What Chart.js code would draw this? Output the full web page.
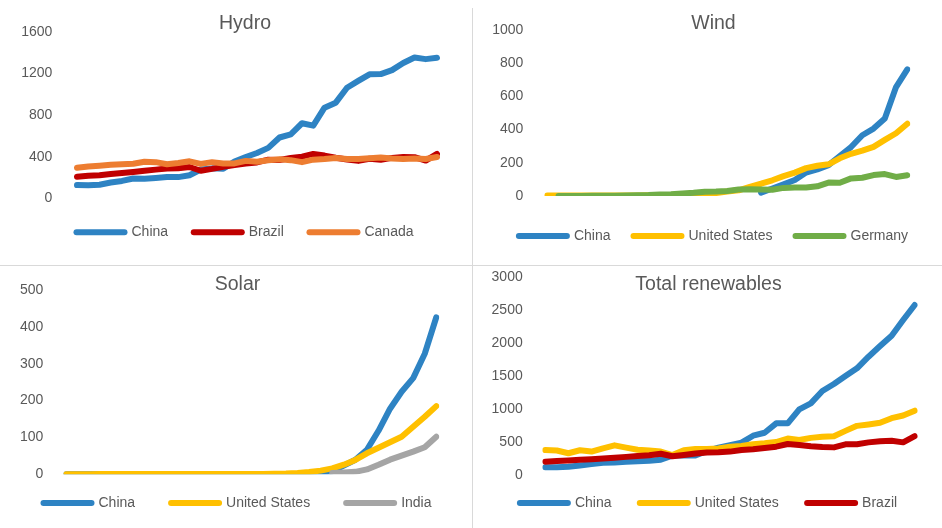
<!DOCTYPE html>
<html lang="en">
<head>
<meta charset="UTF-8">
<title>Renewables by source</title>
<script src="https://cdn.jsdelivr.net/npm/chart.js"></script>
<style>
    body { margin: 0; width: 942px; height: 528px; position: relative; overflow: hidden; background: #fff; }
    canvas { position: absolute; }
    .sep { position: absolute; background: #d9d9d9; }
</style>
</head>
<body>
<canvas id="hydro" width="471" height="264" style="left:0;top:0"></canvas>
<canvas id="wind" width="469" height="264" style="left:473px;top:0"></canvas>
<canvas id="solar" width="471" height="263" style="left:0;top:265px"></canvas>
<canvas id="total" width="469" height="263" style="left:473px;top:265px"></canvas>
<div class="sep" style="left:472px;top:8px;width:1px;height:520px"></div>
<div class="sep" style="left:0;top:265px;width:942px;height:1px"></div>

<script>
const years = ['1990','1991','1992','1993','1994','1995','1996','1997','1998','1999',
               '2000','2001','2002','2003','2004','2005','2006','2007','2008','2009',
               '2010','2011','2012','2013','2014','2015','2016','2017','2018','2019',
               '2020','2021','2022'];

// Hydro
const hydroChina  = [127,125,131,152,167,191,188,196,204,204,222,277,288,284,354,397,436,485,585,616,722,699,872,920,1064,1130,1193,1195,1233,1302,1355,1339,1352];
const hydroBrazil = [207,217,222,234,243,253,265,276,287,290,301,265,283,304,320,335,345,372,368,387,401,427,411,390,373,360,381,371,389,398,396,363,427];
const hydroCanada = [294,306,313,322,328,332,352,348,327,340,356,331,348,335,336,360,351,366,375,367,348,372,378,388,379,378,385,392,382,379,384,378,398];

// Wind
const windChina   = [null,null,null,null,null,null,null,null,null,null,null,null,null,null,null,null,null,null,null,20,45,70,96,141,160,186,241,295,366,406,467,656,763];
const windUS      = [3,3,3,3,3,3,3,3,3,4.5,5.6,6.7,10.4,11.2,14.1,17.8,26.6,34.5,55.4,73.9,94.7,120,141,168,182,191,227,254,273,296,338,378,435];
const windGermany = [null,0.2,0.3,0.6,0.9,1.5,2,3,4.5,5.5,9.5,10.5,15.8,19,25.5,27.2,30.7,39.7,40.6,38.6,37.8,48.9,50.7,51.7,58.5,80.6,79.9,106,110,126,132,115,125];

// Solar
const solarChina = [0,0,0,0,0,0,0,0,0,0,0,0,0,0,0,0.1,0.1,0.1,0.2,0.3,0.7,2.6,3.6,8.4,23.5,39.5,66.5,118,178,224,261,327,426];
const solarUS    = [0.4,0.4,0.4,0.5,0.5,0.5,0.5,0.5,0.5,0.5,0.5,0.5,0.6,0.5,0.6,0.6,0.5,0.6,1.5,2,3.5,6,10,16,26,39,57,72,87,102,129,156,185];
const solarIndia = [null,null,null,null,null,null,null,null,null,null,null,null,null,null,null,null,null,null,null,null,null,null,null,3.4,4.9,6.6,13.2,26,39.7,50.6,61.5,73.5,102];

// Total renewables
const totalChina  = [112,112,120,140,160,180,185,195,205,210,228,290,295,290,360,409,449,485,591,636,778,778,990,1081,1268,1374,1495,1611,1788,1949,2106,2343,2571];
const totalUS     = [374,366,325,370,350,400,445,410,378,365,350,298,370,388,390,398,424,434,460,475,495,548,525,558,576,584,664,740,762,786,856,897,970];
const totalBrazil = [197,207,215,225,235,245,258,270,285,295,318,280,300,320,338,340,350,375,385,405,425,465,449,430,420,414,460,462,490,508,515,490,583];

const BLUE = '#2e83c3', RED = '#c00000', ORANGE = '#ed7d31', YELLOW = '#ffc000', GREEN = '#70ad47', GREY = '#a5a5a5';

Chart.defaults.font.family = "'Liberation Sans', Arial, sans-serif";
Chart.defaults.color = '#595959';

const defaultLabels = Chart.defaults.plugins.legend.labels.generateLabels;

function drawPanel(id, title, series, yMax, yStep, box) {
    const n = series.length;
    new Chart(document.getElementById(id), {
        type: 'line',
        data: {
            labels: years,
            datasets: series.map((s, i) => ({
                label: s[0],
                data: s[1],
                borderColor: s[2],
                backgroundColor: s[2],
                borderWidth: 6,
                borderCapStyle: 'round',
                borderJoinStyle: 'round',
                pointRadius: 0,
                pointHoverRadius: 0,
                tension: 0,
                order: n - i   // later series on top, like Excel
            }))
        },
        options: {
            responsive: false,
            animation: false,
            layout: { padding: { left: box.padL, right: 0, top: box.padT, bottom: box.padB } },
            plugins: {
                title: {
                    display: true,
                    text: title,
                    color: '#595959',
                    font: { size: 19.5, weight: 'normal', lineHeight: 1 },
                    padding: { top: 0, bottom: box.titleGap }
                },
                legend: {
                    position: 'bottom',
                    // empty title only used to pull the legend row up when item spacing is wide
                    title: { display: box.legendShift > 0, text: '', font: { size: 1, lineHeight: 1 },
                             padding: { top: 0, bottom: -(box.legendShift + 1) } },
                    labels: {
                        usePointStyle: true,
                        pointStyle: 'line',
                        pointStyleWidth: 48,
                        padding: box.legendPad,
                        color: '#595959',
                        font: { size: 14 },
                        generateLabels: chart => defaultLabels(chart).map(l => ({ ...l, lineCap: 'round', lineWidth: 6 })),
                        sort: (a, b) => a.datasetIndex - b.datasetIndex
                    }
                },
                tooltip: { enabled: false }
            },
            scales: {
                x: {
                    grid: { display: false },
                    border: { display: false },
                    ticks: { display: false },
                    afterFit: s => { s.height = box.xGap; s.paddingRight = box.padR; }
                },
                y: {
                    min: 0,
                    max: yMax,
                    grid: { display: false, drawTicks: false },
                    border: { display: false },
                    ticks: { stepSize: yStep, padding: box.tickPad, color: '#595959', font: { size: 14 }, callback: v => v },
                    afterFit: s => { s.width = box.yW; s.paddingTop = 0; s.paddingBottom = 0; }
                }
            }
        }
    });
}

drawPanel('hydro', 'Hydro',
    [['China', hydroChina, BLUE], ['Brazil', hydroBrazil, RED], ['Canada', hydroCanada, ORANGE]],
    1600, 400,
    { padL: 19, padR: 34, padT: 14.25, padB: 14.7, yW: 58, tickPad: 24.7, titleGap: -1.75, legendPad: 25.7, legendShift: 0, xGap: 1.3 });

drawPanel('wind', 'Wind',
    [['China', windChina, BLUE], ['United States', windUS, YELLOW], ['Germany', windGermany, GREEN]],
    1000, 200,
    { padL: 12, padR: 34.7, padT: 14.25, padB: 11, yW: 62.3, tickPad: 24, titleGap: -3.75, legendPad: 23, legendShift: 0, xGap: 10 });

drawPanel('solar', 'Solar',
    [['China', solarChina, BLUE], ['United States', solarUS, YELLOW], ['India', solarIndia, GREY]],
    500, 100,
    { padL: 4, padR: 34.7, padT: 9.95, padB: 8, yW: 62.3, tickPad: 23, titleGap: -4.45, legendPad: 36, legendShift: 14.3, xGap: 0 });

drawPanel('total', 'Total renewables',
    [['China', totalChina, BLUE], ['United States', totalUS, YELLOW], ['Brazil', totalBrazil, RED]],
    3000, 500,
    { padL: 2, padR: 27.3, padT: 9.95, padB: 8, yW: 70.3, tickPad: 22.6, titleGap: -17.75, legendPad: 28.3, legendShift: 7, xGap: 0 });
</script>
</body>
</html>
